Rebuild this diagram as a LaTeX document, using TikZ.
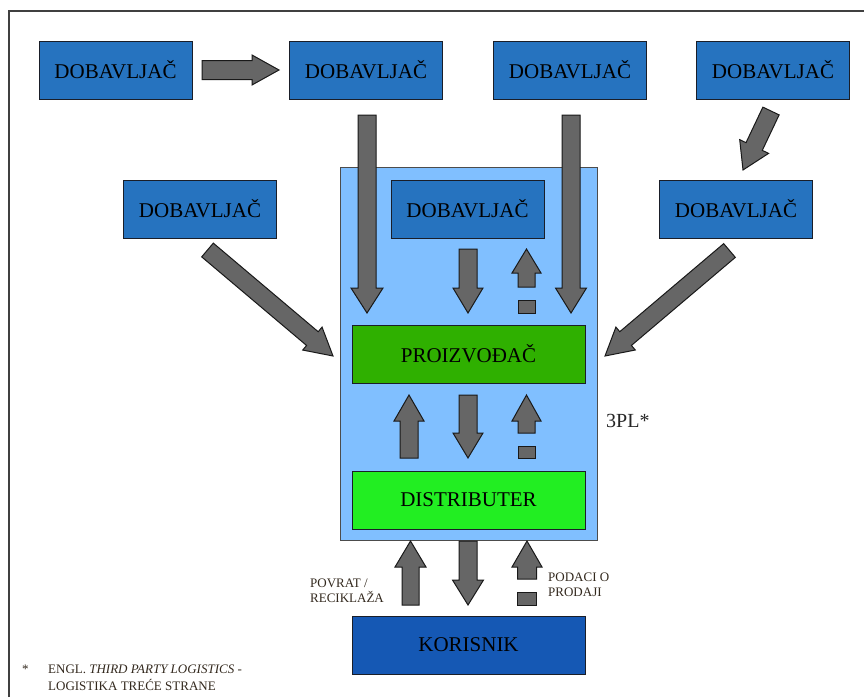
\documentclass[tikz,border=0pt]{standalone}
\usepackage{fontspec}
\setmainfont{Liberation Serif}
\usetikzlibrary{calc}
\definecolor{supblue}{HTML}{2673BF}
\definecolor{plblue}{HTML}{80BFFF}
\definecolor{progreen}{HTML}{2FB000}
\definecolor{disgreen}{HTML}{22EE22}
\definecolor{korblue}{HTML}{1558B4}
\definecolor{arrgray}{HTML}{666666}
\definecolor{edgedark}{HTML}{1A1E28}
\definecolor{labtext}{HTML}{33291E}
\tikzset{
  box/.style={draw=edgedark, line width=1pt, inner sep=0pt, font=\fontsize{21}{24}\selectfont, text=black},
  supbox/.style={box, fill=supblue, minimum width=153pt, minimum height=58pt},
  mainbox/.style={box, minimum width=233pt, minimum height=58pt},
  blockarr/.style={draw=black!90, fill=arrgray, line width=1pt, line join=miter},
  infosq/.style={draw=black!90, fill=arrgray, line width=1pt},
  smalllab/.style={font=\fontsize{13}{15}\selectfont, text=labtext, align=left, inner sep=0pt},
}
\newcommand{\barrow}[6][]{%
  \coordinate (bh) at ($(#3)!#6!(#2)$);
  \draw[blockarr,#1] ($(#2)!#4!90:(#3)$) -- ($(bh)!#4!90:(#3)$) -- ($(bh)!#5!90:(#3)$) -- (#3) -- ($(bh)!#5!-90:(#3)$) -- ($(bh)!#4!-90:(#3)$) -- ($(#2)!#4!-90:(#3)$) -- cycle;}
\begin{document}
\begin{tikzpicture}[x=1pt,y=-1pt]
\useasboundingbox (0,0) rectangle (864,697);
\fill[white] (0,0) rectangle (864,697);
% frame
\draw[line width=1.3pt, black!75] (9,697) -- (9,11) -- (864,11);
% 3PL container
\node[draw=black!70, line width=1pt, fill=plblue, minimum width=257pt, minimum height=373pt, inner sep=0pt] (tpl) at (468.5,353.5) {};
\node[font=\fontsize{20}{22}\selectfont, text=black!85, anchor=west, inner sep=0pt] (tpllab) at (606,421) {3PL*};
% supplier boxes
\node[supbox] (d1) at (115.5,70) {DOBAVLJAČ};
\node[supbox] (d2) at (366,70) {DOBAVLJAČ};
\node[supbox] (d3) at (570,70) {DOBAVLJAČ};
\node[supbox] (d4) at (773,70) {DOBAVLJAČ};
\node[supbox] (d5) at (200,209) {DOBAVLJAČ};
\node[supbox] (d6) at (467.5,209) {DOBAVLJAČ};
\node[supbox] (d7) at (736,209) {DOBAVLJAČ};
% main chain
\node[mainbox, fill=progreen] (pro) at (468.5,354) {PROIZVOĐAČ};
\node[mainbox, fill=disgreen] (dis) at (468.5,500) {DISTRIBUTER};
\node[mainbox, fill=korblue] (kor) at (468.5,645) {KORISNIK};
% arrow end points
\coordinate (a1s) at (202,70);   \coordinate (a1e) at (279,70);
\coordinate (a2s) at (367,115);  \coordinate (a2e) at (367,313);
\coordinate (a3s) at (571,115);  \coordinate (a3e) at (571,313);
\coordinate (a4s) at (771,111);  \coordinate (a4e) at (743,170);
\coordinate (a5s) at (207.5,250);\coordinate (a5e) at (333,356);
\coordinate (a6s) at (729.5,250.5);\coordinate (a6e) at (605,356);
\coordinate (a7s) at (468,249);  \coordinate (a7e) at (468,313);
\coordinate (a8s) at (526.5,287);\coordinate (a8e) at (526.5,249);
\coordinate (a9s) at (409,458);  \coordinate (a9e) at (409,395);
\coordinate (a10s) at (468,395); \coordinate (a10e) at (468,458);
\coordinate (a11s) at (526.5,433);\coordinate (a11e) at (526.5,395);
\coordinate (a12s) at (410.5,605);\coordinate (a12e) at (410.5,541);
\coordinate (a13s) at (468,541); \coordinate (a13e) at (468,605);
\coordinate (a14s) at (527,579); \coordinate (a14e) at (527,541);
% arrows
\barrow{a1s}{a1e}{9.5pt}{15pt}{27pt}
\barrow{a2s}{a2e}{9pt}{16pt}{25pt}
\barrow{a3s}{a3e}{9pt}{15.5pt}{25pt}
\barrow{a4s}{a4e}{9pt}{16pt}{26pt}
\barrow{a5s}{a5e}{9pt}{15pt}{27pt}
\barrow{a6s}{a6e}{9pt}{15pt}{27pt}
\barrow{a7s}{a7e}{9pt}{15pt}{25pt}
\barrow{a8s}{a8e}{8.5pt}{14.5pt}{24pt}
\barrow{a9s}{a9e}{9pt}{15pt}{26pt}
\barrow{a10s}{a10e}{9pt}{15pt}{25pt}
\barrow{a11s}{a11e}{8.5pt}{14.5pt}{26pt}
\barrow{a12s}{a12e}{8.5pt}{15.5pt}{26pt}
\barrow{a13s}{a13e}{9pt}{15.5pt}{25pt}
\barrow{a14s}{a14e}{9.5pt}{15pt}{26pt}
% info squares
\draw[infosq] (518,300) rectangle (535,313);
\draw[infosq] (518,446) rectangle (535,458);
\draw[infosq] (517.5,592) rectangle (536.5,605);
% labels
\node[smalllab, anchor=west] (lret) at (310,590.5) {POVRAT /\\RECIKLAŽA};
\node[smalllab, anchor=west] (lsale) at (548,584.5) {PODACI O\\PRODAJI};
\node[smalllab, anchor=west] (fstar) at (22,669) {*};
\node[smalllab, anchor=west] (fnote) at (48,677.5) {ENGL. \textit{THIRD PARTY LOGISTICS} -\\[2pt]LOGISTIKA TREĆE STRANE};
\end{tikzpicture}
\end{document}
